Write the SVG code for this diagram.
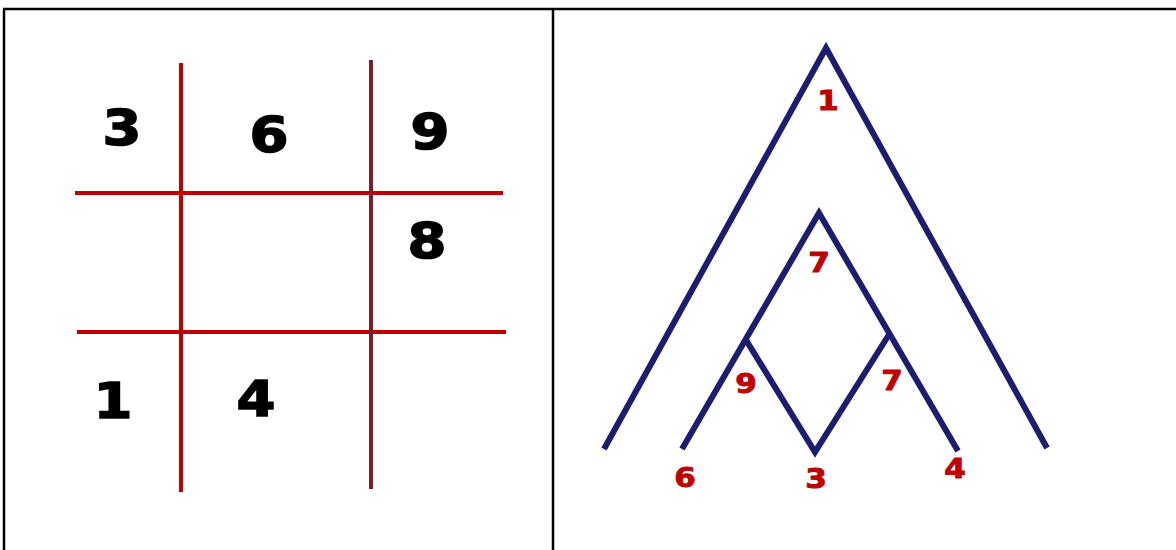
<svg xmlns="http://www.w3.org/2000/svg" width="1176" height="550" viewBox="0 0 1176 550">
<style>
.frame{stroke:#000;stroke-width:2.5;fill:none}
.grid{stroke:#c00000;stroke-width:4;stroke-linecap:butt}
.grid2{stroke:#7a1f2a;stroke-width:4}
.tree{stroke:#1c1c70;stroke-width:6;fill:none;stroke-linejoin:miter;stroke-linecap:butt}
.bk{font-family:"DejaVu Sans",Verdana,sans-serif;font-weight:bold;font-size:50px;fill:#000;stroke:#000;stroke-width:1.6;text-anchor:middle}
.rd{font-family:"DejaVu Sans",Verdana,sans-serif;font-weight:bold;font-size:27px;fill:#c00000;stroke:#c00000;stroke-width:0.9;text-anchor:middle}
</style>
<rect width="1176" height="550" fill="#fff"/>
<g id="frame" class="frame">
<line x1="3" y1="9" x2="1176" y2="9"/>
<line x1="4" y1="9" x2="4" y2="550"/>
<line x1="553" y1="9" x2="553" y2="550"/>
</g>
<g id="grid">
<line class="grid" x1="75" y1="193" x2="503" y2="193"/>
<line class="grid" x1="77" y1="332" x2="506" y2="332"/>
<line class="grid" x1="181" y1="63" x2="181" y2="492"/>
<line class="grid2" x1="371" y1="60" x2="371" y2="489"/>
</g>
<g id="grid-numbers">
<text class="bk" transform="translate(122,145) scale(1.12,1)">3</text>
<text class="bk" transform="translate(269,152) scale(1.12,1)">6</text>
<text class="bk" transform="translate(430,149) scale(1.12,1)">9</text>
<text class="bk" transform="translate(427,258) scale(1.12,1)">8</text>
<text class="bk" transform="translate(113,418) scale(1.12,1)">1</text>
<text class="bk" transform="translate(256,416) scale(1.12,1)">4</text>
</g>
<g id="connectors" class="tree">
<polyline points="604,449 826,48 1047,448"/>
<polyline points="682,449 819,213 958,451"/>
<polyline points="746,340 815,452 890,333"/>
</g>
<g id="tree-labels">
<text class="rd" transform="translate(828,110) scale(1.15,1)">1</text>
<text class="rd" transform="translate(819,272) scale(1.15,1)">7</text>
<text class="rd" transform="translate(746,393) scale(1.15,1)">9</text>
<text class="rd" transform="translate(892,390) scale(1.15,1)">7</text>
<text class="rd" transform="translate(685,487) scale(1.15,1)">6</text>
<text class="rd" transform="translate(816,488) scale(1.15,1)">3</text>
<text class="rd" transform="translate(955,478) scale(1.15,1)">4</text>
</g>
</svg>
